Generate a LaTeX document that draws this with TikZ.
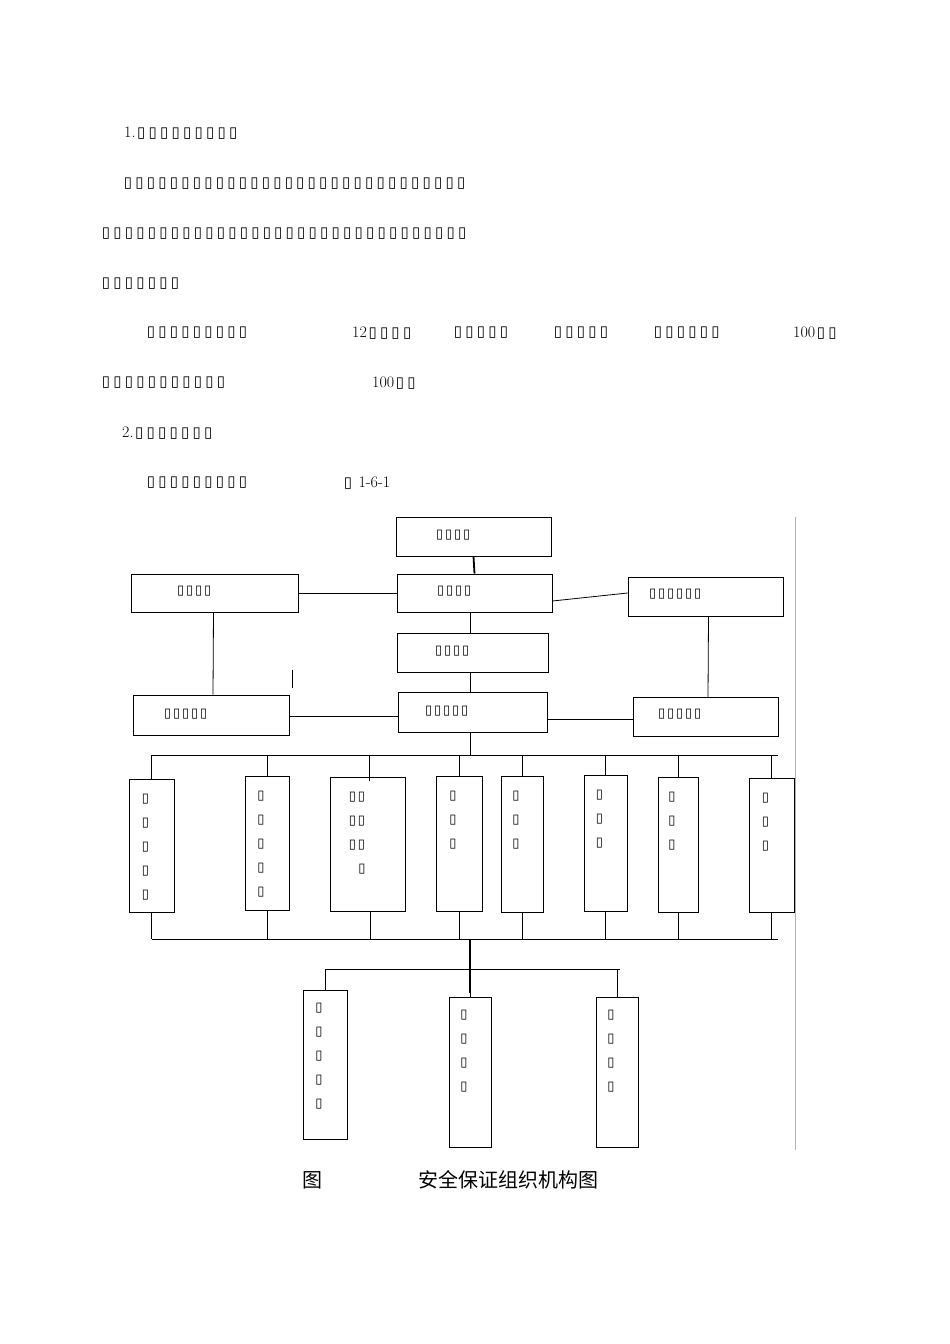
\documentclass[tikz,border=0pt]{standalone}
\usepackage{fontspec}
\newfontfamily\tofufont{DejaVu Sans}
\newfontfamily\cjk{Noto Sans CJK SC}
\newcommand{\tf}{\makebox[11.5pt]{\tofufont\fontsize{15}{15}\selectfont ▯}}
\newcommand{\tfs}{\makebox[9pt]{\tofufont\fontsize{13}{13}\selectfont ▯}}
\newcommand{\tfn}[1]{\foreach \i in {1,...,#1}{\tf}}
\begin{document}
\begin{tikzpicture}[x=1pt,y=-1pt,
  bx/.style={draw,line width=0.9pt,inner sep=0},
  ln/.style={line width=0.8pt},
  tk/.style={line width=1.8pt},
  tx/.style={anchor=west,inner sep=0,font=\fontsize{16}{16}\selectfont}]
\useasboundingbox (0,0) rectangle (950,1344);
% paragraph
\node[tx] (p1) at (124,133) {1.\tfn{9}};
\node[tx] (p2) at (122,184) {\tfn{30}};
\node[tx] (p3) at (100,234) {\tfn{32}};
\node[tx] (p4) at (100,284) {\tfn{7}};
\node[tx] (p5a) at (145,333) {\tfn{9}};
\node[tx] (p5b) at (352,333) {12\tfn{4}};
\node[tx] (p5c) at (452,333) {\tfn{5}};
\node[tx] (p5d) at (552,333) {\tfn{5}};
\node[tx] (p5e) at (652,333) {\tfn{6}};
\node[tx] (p5f) at (793,333) {100\tfn{2}};
\node[tx] (p6a) at (100,383) {\tfn{11}};
\node[tx] (p6b) at (372,383) {100\tfn{2}};
\node[tx] (p7) at (122,433) {2.\tfn{7}};
\node[tx] (p8a) at (145,483) {\tfn{9}};
\node[tx] (p8b) at (342,483) {\tf\ 1-6-1};
% top boxes
\node[bx,minimum width=155pt,minimum height=39pt] (top) at (473.5,536.5) {};
\node[tx] at (435,535) {\tfs\tfs\tfs\tfs};
\node[bx,minimum width=167pt,minimum height=38pt] (l2) at (214.5,593) {};
\node[tx] at (176,591) {\tfs\tfs\tfs\tfs};
\node[bx,minimum width=155pt,minimum height=38pt] (c2) at (474.5,593) {};
\node[tx] at (436,591) {\tfs\tfs\tfs\tfs};
\node[bx,minimum width=155pt,minimum height=39pt] (r2) at (705.5,596.5) {};
\node[tx] at (648,594) {\tfs\tfs\tfs\tfs\tfs\tfs};
\node[bx,minimum width=151pt,minimum height=39pt] (c3) at (472.5,652.5) {};
\node[tx] at (434,651) {\tfs\tfs\tfs\tfs};
\node[bx,minimum width=156pt,minimum height=40pt] (l4) at (211,715) {};
\node[tx] at (163,714) {\tfs\tfs\tfs\tfs\tfs};
\node[bx,minimum width=149pt,minimum height=40pt] (c4) at (472.5,712) {};
\node[tx] at (424,711) {\tfs\tfs\tfs\tfs\tfs};
\node[bx,minimum width=145pt,minimum height=39pt] (r4) at (705.5,716.5) {};
\node[tx] at (657,714) {\tfs\tfs\tfs\tfs\tfs};
% connectors top
\draw[tk] (top.south) -- (c2.north);
\draw[tk] (c2.south -| c3.north) ++(-2,0) -- ++(0,21);
\draw[tk] (c3.south) ++(-2,0) -- ++(0,20);
\draw[ln] (l2.east) -- (l2.east -| c2.west);
\draw[ln] (c2.east) ++(0,8) -- (c2.east -| r2.west) ++(0,0);
\draw[ln] (l2.south) ++(-1,0) -- (l4.north -| 213,0);
\draw[ln] (r2.south) ++(3,0) -- (708,697);
\draw[ln] (l4.east) ++(0,1) -- (398,716);
\draw[ln] (547,719) -- (r4.west |- 0,719);
\draw[ln] (292,670) -- (292,688);
\coordinate (b1) at (470,755);
\draw[ln] (c4.south -| b1) -- (b1);
\draw[ln] (152,755) -- (778,755);
% small boxes
\foreach \n/\x/\w/\a/\b/\k in {s1/151.5/45/779/912/5, s2/267/44/776/910/5, s4/459/46/776/911/3, s5/522/42/776/912/3, s6/605.5/43/775/911/3, s7/678/40/777/912/3, s8/771.5/45/778/912/3}{
  \node[bx,minimum width=\w pt,minimum height={(\b-\a)*1pt}] (\n) at (\x,{(\a+\b)/2}) {};
  \foreach \j in {1,...,\k}{\node[inner sep=0] at (\x-6,{\a+20+(\j-1)*24}) {\tfs};}
  \draw[ln] (\x,755) -- (\n.north);
  \draw[ln] (\n.south) -- (\x,939);
}
\node[bx,minimum width=75pt,minimum height=134pt] (s3) at (367.5,844) {};
\foreach \j in {1,2,3}{\node[inner sep=0] at (357,{797+(\j-1)*24}) {\tfs\tfs};}
\node[inner sep=0] at (362,869) {\tfs};
\draw[ln] (369,755) -- (369,781);
\draw[ln] (s3.south -| 370,0) -- (370,939);
\draw[ln] (152,939) -- (778,939);
% bottom
\coordinate (b2) at (470,939);
\draw[tk] (b2) -- (470,993);
\draw[ln] (325,969) -- (620,969);
\foreach \n/\x/\w/\a/\b/\k in {t1/325/44/990/1139/5, t2/470/42/997/1147/4, t3/617/42/997/1147/4}{
  \node[bx,minimum width=\w pt,minimum height={(\b-\a)*1pt}] (\n) at (\x,{(\a+\b)/2}) {};
  \foreach \j in {1,...,\k}{\node[inner sep=0] at (\x-6,{\a+18+(\j-1)*24}) {\tfs};}
  \draw[ln] (\x,969) -- (\n.north);
}
\draw[gray!60,line width=0.6pt] (795,517) -- (795,1150);
% caption
\node[inner sep=0,font=\cjk\fontsize{20}{20}\selectfont] (cap1) at (312,1180) {图};
\node[inner sep=0,font=\cjk\fontsize{20}{20}\selectfont] (cap2) at (508,1180) {安全保证组织机构图};
\end{tikzpicture}
\end{document}
